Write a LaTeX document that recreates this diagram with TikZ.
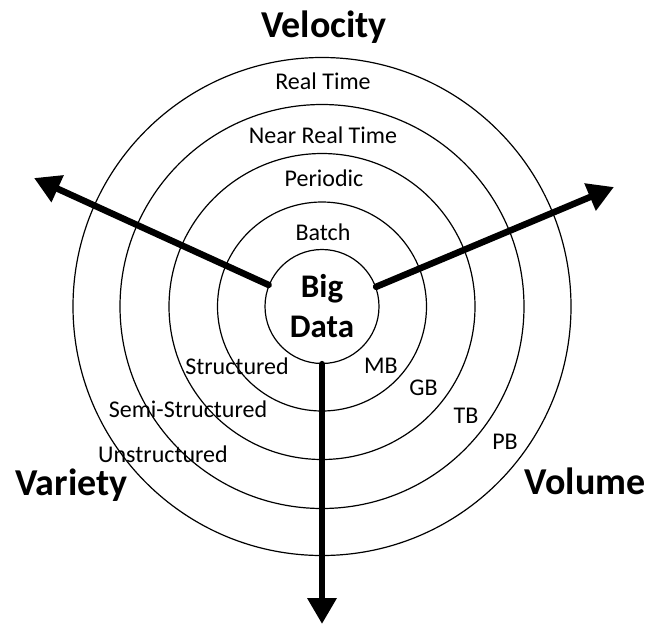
\documentclass[tikz,border=0pt]{standalone}
\usepackage{fontspec}
\setmainfont{Carlito}
\usetikzlibrary{arrows.meta}
\begin{document}
\begin{tikzpicture}[x=1pt,y=-1pt,
  ring/.style={circle, draw, line width=1.2pt, inner sep=0pt},
  lbl/.style={font=\fontsize{24}{28}\selectfont, anchor=base, inner sep=0pt},
  big/.style={font=\fontsize{38}{44}\selectfont\bfseries, anchor=base, inner sep=0pt},
  axis/.style={line width=6.5pt, line cap=round, -{Triangle[length=26pt,width=28pt]}}
]
\useasboundingbox (0,0) rectangle (658,624);
\node[ring, minimum size=498pt] (r4) at (322,306.5) {};
\node[ring, minimum size=404pt] (r3) at (322,306.5) {};
\node[ring, minimum size=306pt] (r2) at (322,306.5) {};
\node[ring, minimum size=209pt] (r1) at (322,306.5) {};
\node[ring, minimum size=114pt, align=center, font=\fontsize{33}{40}\selectfont\bfseries] (core) at (322,306.5) {Big\\Data};

\node[lbl] (rt) at (323,89) {Real Time};
\node[lbl] (nrt) at (323,143) {Near Real Time};
\node[lbl] (per) at (324,186) {Periodic};
\node[lbl] (bat) at (323,240) {Batch};

\node[lbl] (str) at (237,374) {Structured};
\node[lbl] (sstr) at (188,417) {Semi-Structured};
\node[lbl] (ustr) at (163,462) {Unstructured};

\node[lbl] (mb) at (381,373) {MB};
\node[lbl] (gb) at (423.5,395) {GB};
\node[lbl] (tb) at (466,423) {TB};
\node[lbl] (pb) at (505,449) {PB};

\node[big] (vel) at (324,37.5) {Velocity};
\node[big] (var) at (71.5,495) {Variety};
\node[big] (vol) at (585,494) {Volume};

\coordinate (tipL) at (34,178);
\coordinate (tipR) at (614,187);
\coordinate (tipD) at (322,624);
\draw[axis] (core.158.75) -- (tipL);
\draw[axis] (core.20.5) -- (tipR);
\draw[axis] (core.south) -- (tipD);
\end{tikzpicture}
\end{document}
